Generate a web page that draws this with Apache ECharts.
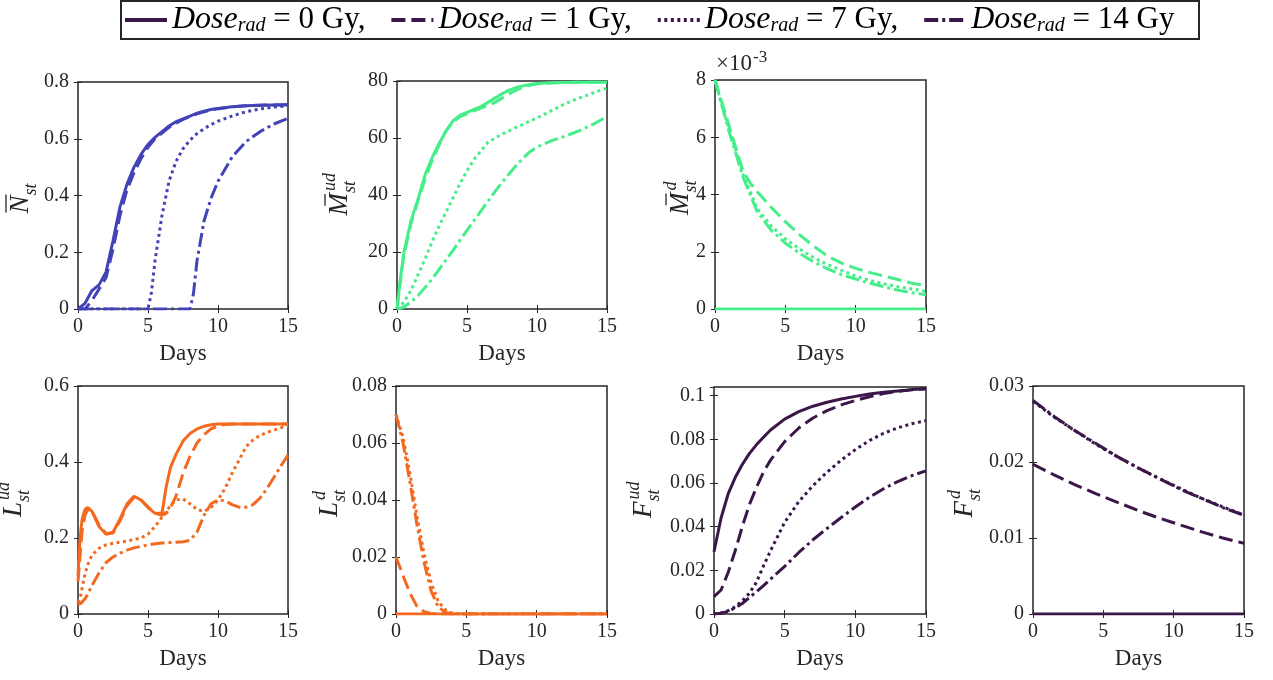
<!DOCTYPE html>
<html>
<head>
<meta charset="utf-8">
<script src="https://cdn.jsdelivr.net/npm/echarts@6/dist/echarts.min.js"></script>
<style>
  html, body { margin: 0; padding: 0; background: #fff; }
  #chart { width: 1273px; height: 680px; }
</style>
</head>
<body>
<div id="chart"></div>
<script>
// ---- Data: time samples (days) and state variables per dose ----
const tN = [0,0.5,1,1.5,2,2.5,3,3.5,4,4.5,5,5.25,5.5,6,6.5,7,7.5,8,8.25,8.5,9,9.5,10,11,12,13,14,15];
const nDose0  = [0,0.02,0.065,0.085,0.13,0.24,0.36,0.44,0.5,0.545,0.58,0.593,0.605,0.625,0.645,0.66,0.67,0.68,0.685,0.69,0.697,0.703,0.707,0.713,0.716,0.718,0.719,0.72];
const nDose1  = [0,0,0.03,0.07,0.11,0.21,0.33,0.42,0.48,0.53,0.57,0.585,0.6,0.62,0.64,0.655,0.668,0.678,0.683,0.688,0.695,0.702,0.706,0.712,0.716,0.718,0.719,0.72];
const nDose7  = [0,0,0,0,0,0,0,0,0,0,0,0.06,0.17,0.33,0.45,0.52,0.565,0.595,0.607,0.618,0.635,0.65,0.662,0.68,0.695,0.705,0.712,0.716];
const nDose14 = [0,0,0,0,0,0,0,0,0,0,0,0,0,0,0,0,0,0,0.055,0.17,0.31,0.39,0.45,0.535,0.59,0.625,0.652,0.672];

const tMud = [0,0.25,0.5,1,1.5,2,2.5,3,3.5,4,4.5,5,5.5,6,6.5,7,7.5,8,8.5,9,9.5,10,11,12,13,14,15];
const mudDose0  = [0,11,20,31,38.5,47,53,58,62.5,66,68,69,70,71,72.5,74,75.5,76.8,77.7,78.3,78.8,79.1,79.4,79.5,79.6,79.6,79.6];
const mudDose1  = [0,10,19,30,38,45.5,52,57.5,62.5,65.5,67.5,68.5,69.5,70.5,71.5,72.5,74,75.5,76.8,77.8,78.5,79,79.3,79.5,79.6,79.6,79.6];
const mudDose7  = [0,1,2.5,6.5,12,17.5,23.5,29,34,39,44,48.5,52.5,55.5,58.5,60,61.3,62.5,63.7,64.8,66,67,69.5,72,74,75.8,77.5];
const mudDose14 = [0,0.2,0.7,2.5,4.7,7.5,10.5,13.8,17.2,20.6,24.2,27.6,31,34.4,37.8,41.2,44.4,47.4,50.3,53,55.2,56.8,59,60.6,62.5,64.8,67.5];

const tMd = [0,0.5,1,1.5,2,2.5,3,4,5,6,7,8,9,10,11,12,13,14,15];
const mdDose0  = [0,0,0,0,0,0,0,0,0,0,0,0,0,0,0,0,0,0,0];
const mdDose1  = [0.008,0.0072,0.0064,0.0056,0.0048,0.0044,0.0041,0.00355,0.00305,0.0026,0.0022,0.00185,0.0016,0.00142,0.00128,0.00115,0.00103,0.0009,0.00082];
const mdDose7  = [0.008,0.0071,0.0063,0.0055,0.0047,0.0041,0.0035,0.0029,0.00245,0.0021,0.0018,0.00155,0.00135,0.00115,0.001,0.00088,0.00078,0.0007,0.00062];
const mdDose14 = [0.008,0.0071,0.0062,0.0054,0.0046,0.004,0.0034,0.00275,0.0023,0.00195,0.00165,0.0014,0.0012,0.00105,0.0009,0.00078,0.00066,0.00057,0.0005];

const tLud = [0,0.1,0.2,0.3,0.5,0.7,1,1.5,2,2.5,3,3.5,4,4.5,5,5.5,6,6.3,6.6,7,7.5,8,8.5,9,9.5,10,10.5,11,11.5,12,12.5,13,13.5,14,14.5,15];
const ludDose0  = [0.1,0.17,0.22,0.25,0.275,0.28,0.27,0.23,0.21,0.215,0.25,0.29,0.31,0.3,0.28,0.265,0.265,0.335,0.385,0.42,0.455,0.475,0.487,0.494,0.498,0.5,0.5,0.5,0.5,0.5,0.5,0.5,0.5,0.5,0.5,0.5];
const ludDose1  = [0.085,0.13,0.18,0.22,0.26,0.275,0.27,0.235,0.212,0.213,0.245,0.285,0.307,0.3,0.282,0.265,0.26,0.265,0.28,0.31,0.37,0.415,0.45,0.472,0.487,0.495,0.499,0.5,0.5,0.5,0.5,0.5,0.5,0.5,0.5,0.5];
const ludDose7  = [0.03,0.035,0.05,0.07,0.105,0.13,0.155,0.173,0.182,0.186,0.189,0.192,0.196,0.2,0.21,0.23,0.255,0.27,0.285,0.3,0.303,0.29,0.275,0.27,0.28,0.3,0.33,0.37,0.405,0.44,0.458,0.47,0.478,0.484,0.49,0.495];
const ludDose14 = [0.025,0.026,0.028,0.03,0.04,0.052,0.075,0.108,0.135,0.15,0.16,0.168,0.174,0.178,0.182,0.185,0.187,0.188,0.188,0.189,0.19,0.194,0.215,0.26,0.29,0.3,0.298,0.288,0.281,0.281,0.288,0.305,0.33,0.36,0.39,0.418];

const tLd = [0,0.5,1,1.5,2,2.5,3,3.5,4,4.5,5,10,15];
const ldDose0  = [0,0,0,0,0,0,0,0,0,0,0,0,0];
const ldDose1  = [0.02,0.0135,0.0072,0.0026,0.0008,0.0002,0,0,0,0,0,0,0];
const ldDose7  = [0.07,0.062,0.049,0.034,0.021,0.011,0.0045,0.0015,0.0003,0,0,0,0];
const ldDose14 = [0.07,0.06,0.046,0.031,0.018,0.008,0.0025,0.0006,0,0,0,0,0];

const tFud = [0,0.5,1,1.5,2,2.5,3,3.5,4,5,6,7,8,9,10,11,12,13,14,15];
const fudDose0  = [0.0285,0.044,0.055,0.0625,0.0685,0.0735,0.0775,0.081,0.0843,0.0893,0.0927,0.0952,0.097,0.0985,0.0997,0.1008,0.1016,0.1022,0.1028,0.1032];
const fudDose1  = [0.008,0.011,0.019,0.029,0.04,0.05,0.058,0.065,0.0705,0.079,0.0852,0.0898,0.0932,0.0958,0.0978,0.0995,0.101,0.102,0.1027,0.1032];
const fudDose7  = [0,0.0005,0.0015,0.0033,0.006,0.0095,0.0145,0.022,0.029,0.042,0.0515,0.0588,0.065,0.0705,0.0753,0.0795,0.0828,0.0853,0.0872,0.0886];
const fudDose14 = [0,0.0003,0.0012,0.0028,0.0048,0.0075,0.0102,0.013,0.016,0.0218,0.0282,0.034,0.0392,0.0442,0.049,0.0535,0.0574,0.0607,0.0634,0.0656];

const tFd = [0,1.5,3,4.5,6,7.5,9,10.5,12,13.5,15];
const fdDose0  = [0,0,0,0,0,0,0,0,0,0,0];
const fdDose1  = [0.0197,0.0183,0.017,0.0158,0.0147,0.0136,0.0126,0.0117,0.0108,0.01,0.0093];
const fdDose7  = [0.028,0.0259,0.0241,0.0223,0.0207,0.0192,0.0178,0.0165,0.0152,0.0141,0.013];
const fdDose14 = [0.0281,0.026,0.0241,0.0224,0.0207,0.0192,0.0178,0.0164,0.0152,0.014,0.013];

const doseLegend = ['0 Gy,', '1 Gy,', '7 Gy,', '14 Gy'];
const xTicks = { min: 0, max: 15, step: 5 };

// ---- Styling ----
const FONT = '"Liberation Serif", "Times New Roman", serif';
const INK = '#262626';
const doseLineTypes = ['solid', [14, 6], [3, 3.5], [14, 4, 3, 4]];

// Panel layout (pixels) and y-axis titles
const panels = [
  { key: 'N',   t: tN,   v: [nDose0, nDose1, nDose7, nDose14],         color: '#4343b8', left: 78,   top: 82,  width: 210, height: 227, yMax: 0.8,   yStep: 0.2,
    title: { main: 'N', sup: '', sub: 'st', bar: 'over' }, titleGap: 57 },
  { key: 'Mud', t: tMud, v: [mudDose0, mudDose1, mudDose7, mudDose14], color: '#45ee88', left: 397,  top: 81,  width: 210, height: 228, yMax: 80,    yStep: 20,
    title: { main: 'M', sup: 'ud', sub: 'st', bar: 'short' }, titleGap: 57 },
  { key: 'Md',  t: tMd,  v: [mdDose0, mdDose1, mdDose7, mdDose14],     color: '#45ee88', left: 715,  top: 80,  width: 211, height: 229, yMax: 0.008, yStep: 0.002,
    fmt: v => String(Math.round(v * 1000)), title: { main: 'M', sup: 'd', sub: 'st', bar: 'short' }, titleGap: 34 },
  { key: 'Lud', t: tLud, v: [ludDose0, ludDose1, ludDose7, ludDose14], color: '#f3691f', left: 78,   top: 386, width: 210, height: 228, yMax: 0.6,   yStep: 0.2,
    title: { main: 'L', sup: 'ud', sub: 'st' }, titleGap: 64 },
  { key: 'Ld',  t: tLd,  v: [ldDose0, ldDose1, ldDose7, ldDose14],     color: '#f3691f', left: 396,  top: 386, width: 211, height: 228, yMax: 0.08,  yStep: 0.02,
    title: { main: 'L', sup: 'd', sub: 'st' }, titleGap: 66 },
  { key: 'Fud', t: tFud, v: [fudDose0, fudDose1, fudDose7, fudDose14], color: '#3a1748', left: 714,  top: 387, width: 212, height: 227, yMax: 0.104, yStep: 0.02,
    hideMax: true, legend: true, title: { main: 'F', sup: 'ud', sub: 'st' }, titleGap: 70 },
  { key: 'Fd',  t: tFd,  v: [fdDose0, fdDose1, fdDose7, fdDose14],     color: '#3a1748', left: 1033, top: 386, width: 211, height: 228, yMax: 0.03,  yStep: 0.01,
    title: { main: 'F', sup: 'd', sub: 'st' }, titleGap: 68 }
];

const MAIN_SIZE = 27, SCRIPT_SIZE = 18;
const mainWidth = { N: 19, M: 23, L: 15, F: 17 };
const scriptWidth = s => s.length * 9;

// Rotated math-style y-axis title: letter with stacked super/subscript
function axisTitle(p) {
  const T = p.title;
  const wm = mainWidth[T.main];
  const ws = Math.max(scriptWidth(T.sup), scriptWidth(T.sub));
  const cx = p.left - p.titleGap;
  const cy = p.top + p.height / 2 - (wm - ws - 1) / 2;
  const txt = (text, x, y, size, align) => ({ type: 'text', x, y, style: {
    text, font: `italic ${size}px ${FONT}`, fill: INK,
    align, verticalAlign: 'middle', textAlign: align, textVerticalAlign: 'middle' } });
  const children = [txt(T.main, 0, 0, MAIN_SIZE, 'right')];
  if (T.sup) children.push(txt(T.sup, 2, -10, SCRIPT_SIZE, 'left'));
  if (T.sub) children.push(txt(T.sub, 0, 10, SCRIPT_SIZE, 'left'));
  if (T.bar === 'over') children.push({ type: 'line', shape: { x1: -wm + 2, y1: -15, x2: 1, y2: -15 }, style: { stroke: INK, lineWidth: 1.3 } });
  if (T.bar === 'short') children.push({ type: 'line', shape: { x1: -wm * 0.55, y1: -15, x2: -1, y2: -15 }, style: { stroke: INK, lineWidth: 1.3 } });
  return { type: 'group', x: cx, y: cy, rotation: Math.PI / 2, children };
}

const grid = [], xAxis = [], yAxis = [], series = [];
const graphic = [];

panels.forEach((p, i) => {
  grid.push({ left: p.left, top: p.top, width: p.width, height: p.height, show: true,
              borderColor: INK, borderWidth: 1.5, backgroundColor: '#fff' });
  const tick = { show: true, inside: true, length: 4, lineStyle: { color: INK, width: 1 } };
  const labelFont = { fontFamily: FONT, fontSize: 20, color: INK };
  xAxis.push({ gridIndex: i, type: 'value', position: 'bottom', min: xTicks.min, max: xTicks.max, interval: xTicks.step,
    axisLine: { show: false }, axisTick: tick, splitLine: { show: false },
    axisLabel: Object.assign({ margin: 8 }, labelFont),
    name: 'Days', nameLocation: 'middle', nameGap: 33,
    nameTextStyle: { fontFamily: FONT, fontSize: 23, color: INK } });
  xAxis.push({ gridIndex: i, type: 'value', position: 'top', min: xTicks.min, max: xTicks.max, interval: xTicks.step,
    axisLine: { show: false }, axisTick: tick, splitLine: { show: false }, axisLabel: { show: false } });
  const yLabel = Object.assign({ margin: 9, showMaxLabel: !p.hideMax }, labelFont);
  if (p.fmt) yLabel.formatter = p.fmt;
  yAxis.push({ gridIndex: i, type: 'value', position: 'left', min: 0, max: p.yMax, interval: p.yStep,
    axisLine: { show: false }, axisTick: tick, splitLine: { show: false }, axisLabel: yLabel });
  yAxis.push({ gridIndex: i, type: 'value', position: 'right', min: 0, max: p.yMax, interval: p.yStep,
    axisLine: { show: false }, axisTick: tick, splitLine: { show: false }, axisLabel: { show: false } });

  p.v.forEach((vals, k) => {
    series.push({
      type: 'line',
      name: p.legend ? doseLegend[k] : p.key + ' ' + doseLegend[k],
      xAxisIndex: 2 * i, yAxisIndex: 2 * i,
      data: p.t.map((d, j) => [d, vals[j]]),
      showSymbol: false, symbol: 'none', silent: true,
      lineStyle: { color: p.color, width: 3, type: doseLineTypes[k], cap: 'butt' },
      itemStyle: { color: p.color },
      z: 2 + k
    });
  });

  graphic.push(axisTitle(p));
});

// Exponent marker for the scaled M^d axis
const mdPanel = panels[2];
graphic.push({ type: 'text', x: mdPanel.left + 1, y: mdPanel.top - 2,
  style: { text: '{a|×10}{b|-3}', fontFamily: FONT, fontSize: 22, fill: INK, verticalAlign: 'bottom', textVerticalAlign: 'bottom',
    rich: { a: { fontFamily: FONT, fontSize: 23, fill: INK },
            b: { fontFamily: FONT, fontSize: 17, fill: INK, verticalAlign: 'top', padding: [0, 0, 12, 1] } } } });

// Legend frame
graphic.push({ type: 'rect', shape: { x: 121, y: 1, width: 1078, height: 38 },
  style: { fill: 'none', stroke: INK, lineWidth: 2 }, z: 0 });

const chart = echarts.init(document.getElementById('chart'), null, { renderer: 'canvas' });
chart.setOption({
  animation: false,
  backgroundColor: '#fff',
  grid, xAxis, yAxis, series, graphic,
  legend: {
    data: doseLegend,
    left: 123, top: 4, padding: 0,
    itemGap: 24, itemWidth: 42, itemHeight: 14,
    selectedMode: false,
    itemStyle: { opacity: 0, borderWidth: 0 },
    lineStyle: { width: 4 },
    formatter: name => `{it|Dose}{sub|rad}{rm| = ${name}}`,
    textStyle: {
      color: '#000', fontFamily: FONT, fontSize: 31,
      rich: {
        it: { fontFamily: FONT, fontSize: 32, fontStyle: 'italic', color: '#000' },
        sub: { fontFamily: FONT, fontSize: 20, fontStyle: 'italic', color: '#000', verticalAlign: 'bottom', padding: [11, 0, 0, 0] },
        rm: { fontFamily: FONT, fontSize: 31, color: '#000' }
      }
    }
  }
});
</script>
</body>
</html>
